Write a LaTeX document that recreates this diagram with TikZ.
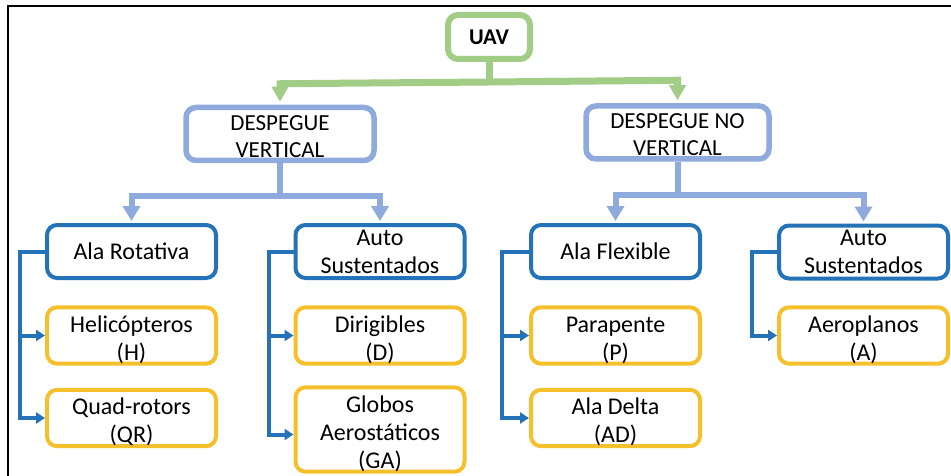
\documentclass[tikz,border=0pt]{standalone}
\usepackage{fontspec}
\setmainfont{Carlito}
\usetikzlibrary{arrows.meta}

\definecolor{uavgreen}{HTML}{A2CD86}
\definecolor{lvlblue}{HTML}{8FAADC}
\definecolor{catblue}{HTML}{2472B8}
\definecolor{typeyellow}{HTML}{F6C02C}

% raise the top of the first text line so that the text sits lower in its box
\newcommand{\lowtext}[1]{\rule{0pt}{#1}}

\tikzset{
  basebox/.style={rectangle, rounded corners=10pt, fill=white, align=center,
    inner sep=0pt, font=\fontsize{24}{28}\selectfont},
  rootbox/.style={basebox, draw=uavgreen, line width=6pt, minimum width=82pt,
    minimum height=44pt, font=\fontsize{22.5}{26}\selectfont\bfseries},
  lvlbox/.style={basebox, draw=lvlblue, line width=5.5pt, minimum height=53pt,
    font=\fontsize{23}{27}\selectfont},
  catbox/.style={basebox, draw=catblue, line width=4pt, minimum width=169pt,
    minimum height=53pt},
  typebox/.style={basebox, draw=typeyellow, line width=4pt, minimum width=169pt,
    minimum height=53pt},
  gline/.style={draw=uavgreen, line width=7pt},
  garrow/.style={-{Triangle[width=16pt,length=15pt]}, shorten >=3pt},
  lline/.style={draw=lvlblue, line width=6pt},
  larrow/.style={-{Triangle[width=17pt,length=15pt]}, shorten >=2pt},
  dline/.style={draw=catblue, line width=4pt},
  darrow/.style={-{Triangle[width=11pt,length=9pt]}},
}

\begin{document}
\begin{tikzpicture}[x=1pt,y=-1pt]
\useasboundingbox (0,0) rectangle (951,476);

% outer frame (left and top edges)
\coordinate (frameBL) at (8,490);
\coordinate (frameTL) at (8,6);
\coordinate (frameTR) at (970,6);
\draw[black, line width=1.8pt] (frameBL) -- (frameTL) -- (frameTR);

% root
\node[rootbox] (uav) at (489,37) {UAV};

% take-off classes
\node[lvlbox, minimum width=188pt] (dv) at (280,134) {\lowtext{20pt}DESPEGUE\\VERTICAL};
\node[lvlbox, minimum width=183pt] (dnv) at (677.5,132.5) {\lowtext{20pt}DESPEGUE NO\\VERTICAL};

% wing classes
\node[catbox] (ar) at (131.5,251.5) {Ala Rotativa};
\node[catbox] (as1) at (380,251.5) {Auto\\Sustentados};
\node[catbox] (af) at (615.5,251.5) {Ala Flexible};
\node[catbox] (as2) at (863.5,252) {Auto\\Sustentados};

% vehicle types
\node[typebox] (h) at (131.5,335.5) {\lowtext{25pt}Helicópteros\\(H)};
\node[typebox] (qr) at (131.5,418) {\lowtext{25pt}Quad-rotors\\(QR)};
\node[typebox] (d) at (380,335.5) {\lowtext{25pt}Dirigibles\\(D)};
\node[typebox, minimum height=76pt] (ga) at (380,429.5) {\lowtext{25pt}Globos\\Aerostáticos\\(GA)};
\node[typebox] (p) at (615.5,335.5) {\lowtext{25pt}Parapente\\(P)};
\node[typebox] (ad) at (615.5,418) {\lowtext{25pt}Ala Delta\\(AD)};
\node[typebox] (a) at (863.5,335.5) {\lowtext{25pt}Aeroplanos\\(A)};

% root -> take-off classes
\coordinate (gbar) at (489,82);
\draw[gline] (uav.south) -- (gbar);
\draw[gline, garrow] (gbar) -- ([yshift=21pt]dv.north) -- (dv.north);
\draw[gline, garrow] (gbar) -- ([yshift=23pt]dnv.north) -- (dnv.north);

% take-off classes -> wing classes
\draw[lline, larrow] (dv.south) -- ++(0,33) -| (ar.north);
\draw[lline, larrow] (dv.south) -- ++(0,33) -| (as1.north);
\draw[lline, larrow] (dnv.south) -- ++(0,33) -| (af.north);
\draw[lline, larrow] (dnv.south) -- ++(0,33) -| (as2.north);

% wing classes -> vehicle types
\draw[dline, darrow] (ar.west) -- ++(-25,0) |- (qr.west);
\draw[dline, darrow] ([xshift=-25pt]ar.west) |- (h.west);
\draw[dline, darrow] (as1.west) -- ++(-25,0) |- ([yshift=-5pt]ga.west);
\draw[dline, darrow] ([xshift=-25pt]as1.west) |- (d.west);
\draw[dline, darrow] (af.west) -- ++(-27,0) |- (ad.west);
\draw[dline, darrow] ([xshift=-27pt]af.west) |- (p.west);
\draw[dline, darrow] (as2.west) -- ++(-25,0) |- (a.west);
\end{tikzpicture}
\end{document}
